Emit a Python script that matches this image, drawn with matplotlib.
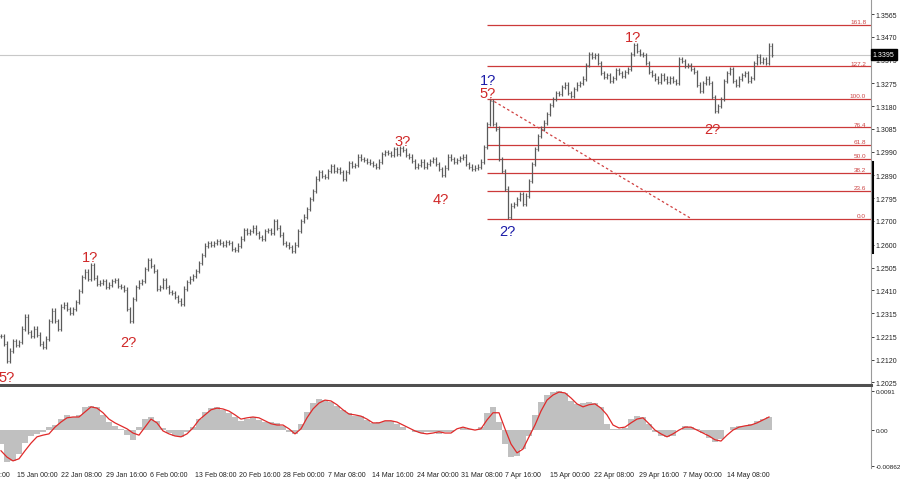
import numpy as np
import matplotlib
matplotlib.use("Agg")
import matplotlib.pyplot as plt
from matplotlib.transforms import blended_transform_factory as blend

plt.rcParams["font.family"] = ["Liberation Sans", "DejaVu Sans"]

# ---------------------------------------------------------------- data (H4 closes)
closes = [
    1.2219, 1.2186, 1.2115, 1.2157, 1.2198, 1.2182, 1.2194, 1.2249, 1.2299, 1.2236,
    1.2219, 1.2249, 1.2224, 1.2186, 1.2173, 1.2207, 1.2282, 1.2324, 1.2282, 1.2249,
    1.2341, 1.2349, 1.2332, 1.2315, 1.2332, 1.2361, 1.2407, 1.2466, 1.2487, 1.2458,
    1.2516, 1.2462, 1.2437, 1.2441, 1.2449, 1.2424, 1.2433, 1.2449, 1.2453, 1.2428,
    1.2424, 1.2412, 1.2332, 1.2282, 1.2374, 1.2424, 1.2441, 1.2449, 1.2499, 1.2537,
    1.2512, 1.2491, 1.2416, 1.2424, 1.2453, 1.2424, 1.2403, 1.2399, 1.2382, 1.2366,
    1.2353, 1.2416, 1.2445, 1.2458, 1.2470, 1.2491, 1.2524, 1.2558, 1.2596, 1.2608,
    1.2600, 1.2608, 1.2616, 1.2608, 1.2600, 1.2612, 1.2608, 1.2583, 1.2579, 1.2596,
    1.2625, 1.2662, 1.2650, 1.2658, 1.2671, 1.2650, 1.2633, 1.2625, 1.2658, 1.2662,
    1.2650, 1.2700, 1.2671, 1.2642, 1.2608, 1.2600, 1.2591, 1.2575, 1.2600, 1.2658,
    1.2700, 1.2717, 1.2750, 1.2792, 1.2825, 1.2876, 1.2905, 1.2888, 1.2884, 1.2909,
    1.2930, 1.2909, 1.2917, 1.2905, 1.2876, 1.2905, 1.2942, 1.2930, 1.2934, 1.2968,
    1.2959, 1.2955, 1.2947, 1.2942, 1.2934, 1.2926, 1.2947, 1.2980, 1.2988, 1.2984,
    1.2976, 1.3001, 1.2980, 1.3005, 1.2997, 1.2976, 1.2968, 1.2951, 1.2926, 1.2934,
    1.2947, 1.2926, 1.2938, 1.2951, 1.2959, 1.2938, 1.2917, 1.2892, 1.2922, 1.2968,
    1.2959, 1.2947, 1.2955, 1.2963, 1.2968, 1.2938, 1.2926, 1.2917, 1.2922, 1.2926,
    1.2947, 1.3009, 1.3105, 1.3200, 1.3105, 1.3085, 1.2959, 1.2909, 1.2834, 1.2718,
    1.2763, 1.2771, 1.2792, 1.2813, 1.2771, 1.2805, 1.2867, 1.2938, 1.3001, 1.3055,
    1.3085, 1.3110, 1.3147, 1.3185, 1.3210, 1.3235, 1.3231, 1.3260, 1.3269, 1.3235,
    1.3223, 1.3252, 1.3269, 1.3277, 1.3294, 1.3352, 1.3398, 1.3386, 1.3394, 1.3360,
    1.3319, 1.3302, 1.3310, 1.3285, 1.3298, 1.3331, 1.3319, 1.3306, 1.3323, 1.3335,
    1.3398, 1.3436, 1.3411, 1.3398, 1.3394, 1.3360, 1.3323, 1.3310, 1.3294, 1.3281,
    1.3310, 1.3294, 1.3281, 1.3298, 1.3285, 1.3277, 1.3377, 1.3369, 1.3348, 1.3352,
    1.3335, 1.3323, 1.3269, 1.3243, 1.3277, 1.3294, 1.3277, 1.3218, 1.3160, 1.3181,
    1.3210, 1.3285, 1.3319, 1.3335, 1.3285, 1.3269, 1.3294, 1.3310, 1.3319, 1.3285,
    1.3298, 1.3360, 1.3386, 1.3365, 1.3377, 1.3360, 1.3432, 1.3395,
]
WICK = 0.0010
last_price = 1.3395

# MACD (main as histogram, signal as line), one value every 2 bars
macd_main = [
    -0.0034, -0.0077, -0.0074, -0.0058, -0.0032, -0.0015, -0.0010, -0.0005, 0.0006, 0.0011,
    0.0025, 0.0035, 0.0030, 0.0035, 0.0054, 0.0056, 0.0054, 0.0035, 0.0018, 0.0009,
    0.0002, -0.0013, -0.0024, 0.0006, 0.0025, 0.0030, 0.0021, 0.0004, -0.0008, -0.0015,
    -0.0017, -0.0005, 0.0006, 0.0025, 0.0042, 0.0051, 0.0054, 0.0047, 0.0040, 0.0030,
    0.0021, 0.0025, 0.0030, 0.0023, 0.0018, 0.0018, 0.0016, 0.0009, -0.0005, -0.0010,
    0.0014, 0.0042, 0.0063, 0.0073, 0.0070, 0.0066, 0.0056, 0.0047, 0.0040, 0.0032,
    0.0032, 0.0023, 0.0016, 0.0018, 0.0021, 0.0021, 0.0014, 0.0006, -0.0001, -0.0005,
    -0.0008, -0.0005, -0.0005, -0.0010, -0.0005, -0.0005, -0.0001, 0.0004, 0.0002, -0.0001,
    0.0006, 0.0040, 0.0054, 0.0018, -0.0034, -0.0065, -0.0062, -0.0046, -0.0015, 0.0035,
    0.0066, 0.0082, 0.0089, 0.0092, 0.0087, 0.0068, 0.0061, 0.0063, 0.0066, 0.0063,
    0.0054, 0.0014, 0.0002, 0.0002, 0.0004, 0.0025, 0.0032, 0.0030, 0.0014, -0.0005,
    -0.0015, -0.0017, -0.0015, -0.0001, 0.0009, 0.0006, 0.0002, -0.0008, -0.0020, -0.0029,
    -0.0022, -0.0001, 0.0006, 0.0009, 0.0009, 0.0014, 0.0021, 0.0025, 0.0030,
]
macd_signal = [
    -0.0050, -0.0065, -0.0074, -0.0069, -0.0050, -0.0032, -0.0017, -0.0013, -0.0010, 0.0006,
    0.0018, 0.0028, 0.0030, 0.0030, 0.0042, 0.0054, 0.0051, 0.0040, 0.0025, 0.0016,
    0.0009, 0.0002, -0.0008, -0.0013, 0.0006, 0.0025, 0.0016, -0.0003, -0.0010, -0.0015,
    -0.0017, -0.0010, 0.0004, 0.0023, 0.0035, 0.0047, 0.0051, 0.0049, 0.0044, 0.0035,
    0.0025, 0.0028, 0.0030, 0.0028, 0.0021, 0.0014, 0.0011, 0.0011, 0.0002, -0.0010,
    0.0002, 0.0028, 0.0049, 0.0063, 0.0070, 0.0068, 0.0059, 0.0047, 0.0037, 0.0035,
    0.0032, 0.0025, 0.0016, 0.0016, 0.0021, 0.0021, 0.0018, 0.0011, 0.0004, -0.0003,
    -0.0008, -0.0010, -0.0008, -0.0005, -0.0008, -0.0008, 0.0002, 0.0006, 0.0002, -0.0001,
    0.0002, 0.0023, 0.0040, 0.0040, 0.0002, -0.0034, -0.0055, -0.0046, -0.0017, 0.0011,
    0.0044, 0.0070, 0.0082, 0.0089, 0.0087, 0.0075, 0.0061, 0.0054, 0.0059, 0.0061,
    0.0051, 0.0035, 0.0011, 0.0004, 0.0006, 0.0016, 0.0025, 0.0028, 0.0014, -0.0001,
    -0.0010, -0.0017, -0.0010, -0.0001, 0.0006, 0.0006, -0.0001, -0.0008, -0.0015, -0.0024,
    -0.0027, -0.0013, -0.0001, 0.0006, 0.0009, 0.0011, 0.0016, 0.0023, 0.0030,
]

# Fibonacci grid drawn from the wave-2 low to the 5? high
FIB_LO, FIB_HI = 1.2708, 1.3210
fib_levels = [0.0, 23.6, 38.2, 50.0, 61.8, 76.4, 100.0, 127.2, 161.8]
FIB_START, TREND_END = 162, 230.3

price_ticks = [1.3565, 1.3470, 1.3375, 1.3275, 1.3180, 1.3085, 1.2990, 1.2890, 1.2795,
               1.2700, 1.2600, 1.2505, 1.2410, 1.2315, 1.2215, 1.2120, 1.2025]
macd_ticks = [0.0091, 0.0, -0.00862]
macd_tick_labels = ["0.0091", "0.00", "-0.00862"]
date_labels = ["7 Jan 16:00", "15 Jan 00:00", "22 Jan 08:00", "29 Jan 16:00", "6 Feb 00:00",
               "13 Feb 08:00", "20 Feb 16:00", "28 Feb 00:00", "7 Mar 08:00", "14 Mar 16:00",
               "24 Mar 00:00", "31 Mar 08:00", "7 Apr 16:00", "15 Apr 00:00", "22 Apr 08:00",
               "29 Apr 16:00", "7 May 00:00", "14 May 08:00"]

RED, BLUE = "#d02828", "#1c1ca8"
wave_labels = [("5?", 1.7, 1.2048, RED), ("1?", 29.7, 1.2550, RED), ("2?", 42.3, 1.2194, RED),
               ("3?", 133.7, 1.3034, RED), ("4?", 146.7, 1.2792, RED),
               ("1?", 162.3, 1.3289, BLUE), ("5?", 162.3, 1.3235, RED),
               ("2?", 168.7, 1.2658, BLUE), ("1?", 210.7, 1.3469, RED), ("2?", 237.0, 1.3085, RED)]

# ---------------------------------------------------------------- figure
fig = plt.figure(figsize=(9, 4.85), dpi=100)
W = 871 / 900
ax = fig.add_axes([0, 1 - 386 / 485, W, 386 / 485])
ax2 = fig.add_axes([0, 1 - 469 / 485, W, (469 - 388) / 485], sharex=ax)

c = np.array(closes)
x = np.arange(len(c))
o = np.r_[c[0], c[:-1]]
hi = np.maximum(o, c) + WICK
lo = np.minimum(o, c) - WICK

BAR = "#5a5a5a"
ax.axhline(last_price, color="#c8c8c8", lw=0.8, zorder=1)
ax.vlines(x, lo, hi, color=BAR, lw=0.9, zorder=3)
ax.hlines(o, x - 0.35, x, color=BAR, lw=0.6, zorder=3)
ax.hlines(c, x, x + 0.35, color=BAR, lw=0.6, zorder=3)

xmax = 290.0
for lev in fib_levels:
    p = FIB_LO + (FIB_HI - FIB_LO) * lev / 100
    ax.hlines(p, FIB_START, xmax, color="#cc3a3a", lw=0.9, zorder=2)
    ax.text(xmax - 1.6, p + 0.0003, f"{lev:.1f}", color="#cc4444", fontsize=4.6,
            ha="right", va="bottom")
ax.plot([163, TREND_END], [FIB_HI, FIB_LO], color="#d04040", lw=0.9, ls=(0, (2, 2)), zorder=2)

for txt, xi, yi, col in wave_labels:
    ax.text(xi, yi, txt, color=col, fontsize=10.5, ha="center", va="center")

ax.set_xlim(-0.33, xmax)
ax.set_ylim(1.2014, 1.3628)
ax.yaxis.tick_right()
ax.set_yticks(price_ticks)
ax.set_yticklabels([f"{t:.4f}" for t in price_ticks])
ax.tick_params(axis="y", labelsize=5, length=2, pad=1.5, colors="#222222", width=0.6)
ax.tick_params(axis="x", bottom=False, labelbottom=False)
for s in ("top", "left"):
    ax.spines[s].set_visible(False)
ax.spines["right"].set_color("#9a9a9a")
ax.spines["right"].set_linewidth(0.8)
ax.spines["bottom"].set_color("#505050")
ax.spines["bottom"].set_linewidth(2.2)

tr = blend(ax.transAxes, ax.transData)
ax.plot([1.001, 1.001], [1.2570, 1.2947], transform=tr, color="black", lw=2.2, clip_on=False)
ax.text(1.002, last_price, f"{last_price:.4f}", transform=tr, color="white", fontsize=5,
        ha="left", va="center", zorder=10,
        bbox=dict(facecolor="black", edgecolor="black", pad=1.6))

# ---------------------------------------------------------------- MACD
xm = np.arange(len(macd_main)) * 2
ax2.bar(xm, macd_main, width=2.0, color="#c0c0c0", linewidth=0)
ax2.plot(np.arange(len(macd_signal)) * 2, macd_signal, color="#e02a2a", lw=0.9)
ax2.set_ylim(-0.00908, 0.0101)
ax2.yaxis.tick_right()
ax2.set_yticks(macd_ticks)
ax2.set_yticklabels(macd_tick_labels)
ax2.tick_params(axis="y", labelsize=4.6, length=2, pad=1.2, colors="#222222", width=0.6)
ax2.tick_params(axis="x", bottom=False, labelbottom=False)
for s in ("top", "left", "bottom"):
    ax2.spines[s].set_visible(False)
ax2.spines["right"].set_color("#9a9a9a")
ax2.spines["right"].set_linewidth(0.8)

trx = blend(ax2.transData, ax2.transAxes)
for k, lab in enumerate(date_labels):
    ax2.text(-9.47 + 14.8 * k, -0.04, lab, transform=trx, fontsize=5, color="#222222",
             ha="left", va="top", clip_on=False)

fig.savefig("out.png", dpi=100)
